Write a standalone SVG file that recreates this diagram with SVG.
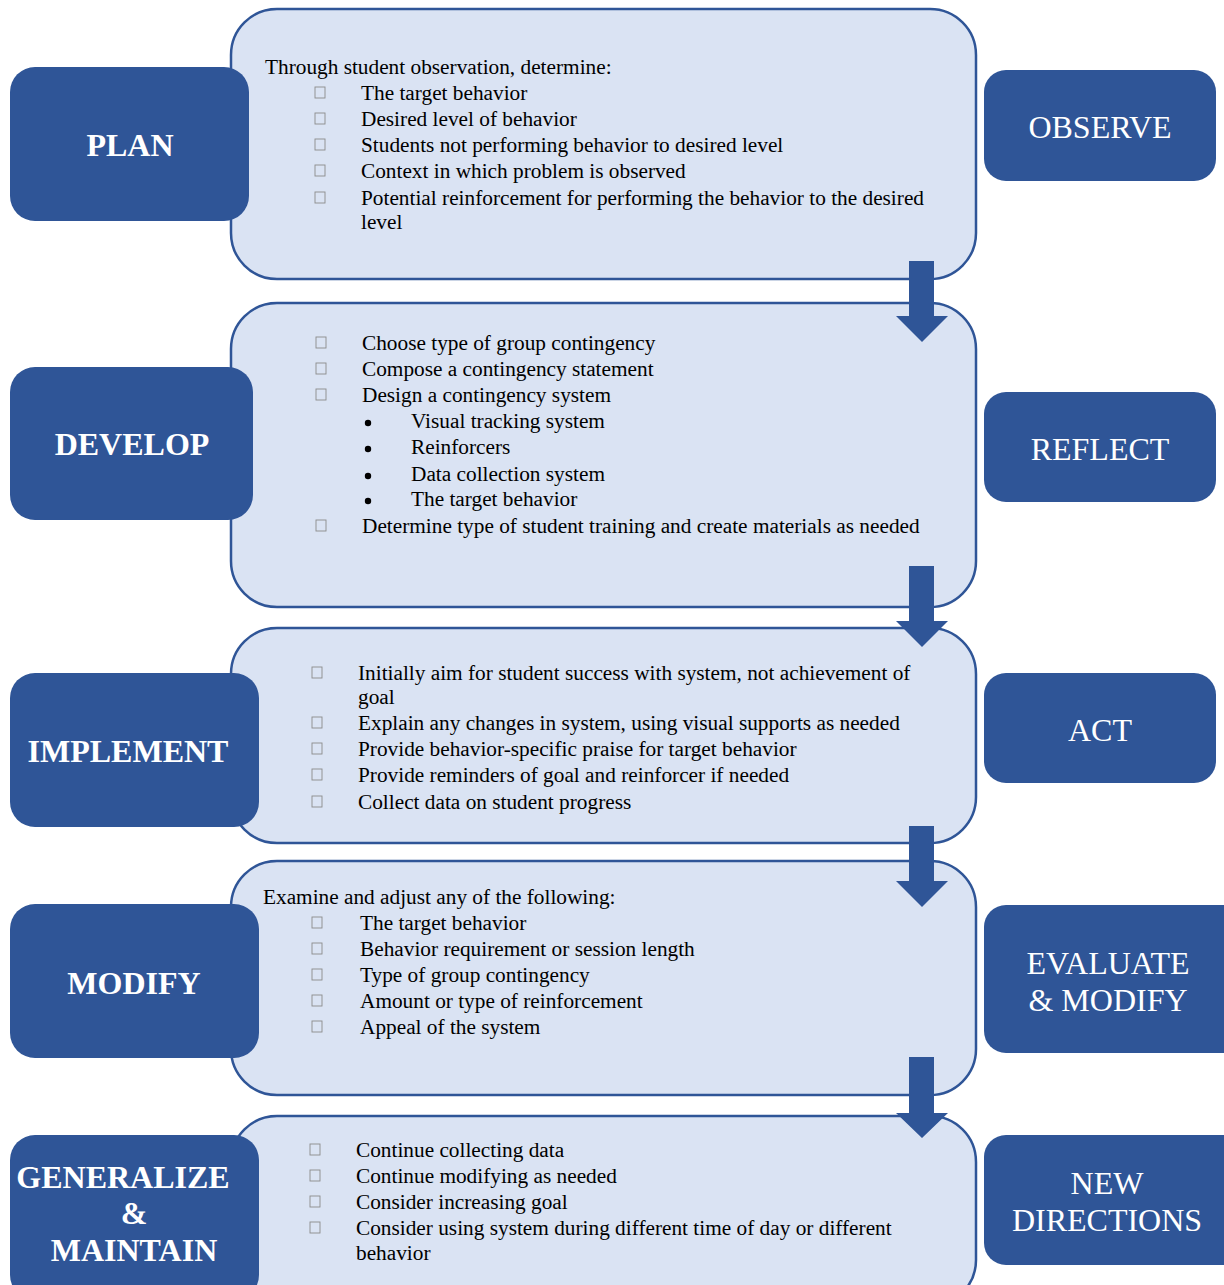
<svg xmlns="http://www.w3.org/2000/svg" width="1224" height="1285" viewBox="0 0 1224 1285">
<style>
.panel{fill:#DAE3F3;stroke:#2F5597;stroke-width:2.5}
.tag{fill:#2F5597}
.arrow{fill:#2F5597}
.body{font-family:"Liberation Serif","Times New Roman",serif;font-size:21.3px;fill:#000}
.lbl{font-family:"Liberation Serif","Times New Roman",serif;font-size:32px;font-weight:bold;fill:#fff;text-anchor:middle}
.rlbl{font-family:"Liberation Serif","Times New Roman",serif;font-size:32px;fill:#fff;text-anchor:middle}
.cb{fill:none;stroke:#8a8a8a;stroke-width:0.9}
.bul{fill:#000}
</style>
<defs>
<rect id="box" class="cb" x="0" y="-6" width="10" height="11"/>
</defs>
<rect width="1224" height="1285" fill="#fff"/>

<g id="panel-observe">
<rect class="panel" x="231" y="9" width="745" height="270" rx="46" ry="46"/>
<text class="body" x="265" y="74">Through student observation, determine:</text>
<use href="#box" x="315" y="93"/><text class="body" x="361" y="100">The target behavior</text>
<use href="#box" x="315" y="119"/><text class="body" x="361" y="126">Desired level of behavior</text>
<use href="#box" x="315" y="145"/><text class="body" x="361" y="152">Students not performing behavior to desired level</text>
<use href="#box" x="315" y="171"/><text class="body" x="361" y="178">Context in which problem is observed</text>
<use href="#box" x="315" y="198"/><text class="body" x="361" y="205">Potential reinforcement for performing the behavior to the desired</text>
<text class="body" x="361" y="229">level</text>
</g>

<g id="panel-reflect">
<rect class="panel" x="231" y="303" width="745" height="304" rx="46" ry="46"/>
<use href="#box" x="316" y="343"/><text class="body" x="362" y="350">Choose type of group contingency</text>
<use href="#box" x="316" y="369"/><text class="body" x="362" y="376">Compose a contingency statement</text>
<use href="#box" x="316" y="395"/><text class="body" x="362" y="402">Design a contingency system</text>
<circle class="bul" cx="368" cy="423" r="3.2"/><text class="body" x="411" y="428">Visual tracking system</text>
<circle class="bul" cx="368" cy="449" r="3.2"/><text class="body" x="411" y="454">Reinforcers</text>
<circle class="bul" cx="368" cy="476" r="3.2"/><text class="body" x="411" y="481">Data collection system</text>
<circle class="bul" cx="368" cy="501" r="3.2"/><text class="body" x="411" y="506">The target behavior</text>
<use href="#box" x="316" y="526"/><text class="body" x="362" y="533">Determine type of student training and create materials as needed</text>
</g>

<g id="panel-act">
<rect class="panel" x="231" y="628" width="745" height="215" rx="46" ry="46"/>
<use href="#box" x="312" y="673"/><text class="body" x="358" y="680">Initially aim for student success with system, not achievement of</text>
<text class="body" x="358" y="704">goal</text>
<use href="#box" x="312" y="723"/><text class="body" x="358" y="730">Explain any changes in system, using visual supports as needed</text>
<use href="#box" x="312" y="749"/><text class="body" x="358" y="756">Provide behavior-specific praise for target behavior</text>
<use href="#box" x="312" y="775"/><text class="body" x="358" y="782">Provide reminders of goal and reinforcer if needed</text>
<use href="#box" x="312" y="802"/><text class="body" x="358" y="809">Collect data on student progress</text>
</g>

<g id="panel-evaluate">
<rect class="panel" x="231" y="861" width="745" height="234" rx="46" ry="46"/>
<text class="body" x="263" y="904">Examine and adjust any of the following:</text>
<use href="#box" x="312" y="923"/><text class="body" x="360" y="930">The target behavior</text>
<use href="#box" x="312" y="949"/><text class="body" x="360" y="956">Behavior requirement or session length</text>
<use href="#box" x="312" y="975"/><text class="body" x="360" y="982">Type of group contingency</text>
<use href="#box" x="312" y="1001"/><text class="body" x="360" y="1008">Amount or type of reinforcement</text>
<use href="#box" x="312" y="1027"/><text class="body" x="360" y="1034">Appeal of the system</text>
</g>

<g id="panel-new">
<rect class="panel" x="231" y="1116" width="745" height="190" rx="46" ry="46"/>
<use href="#box" x="310" y="1150"/><text class="body" x="356" y="1157">Continue collecting data</text>
<use href="#box" x="310" y="1176"/><text class="body" x="356" y="1183">Continue modifying as needed</text>
<use href="#box" x="310" y="1202"/><text class="body" x="356" y="1209">Consider increasing goal</text>
<use href="#box" x="310" y="1228"/><text class="body" x="356" y="1235">Consider using system during different time of day or different</text>
<text class="body" x="356" y="1260">behavior</text>
</g>

<g id="connectors">
<path class="arrow" d="M909 261H934V316H948L922 342L896 316H909Z"/>
<path class="arrow" d="M909 566H934V621H948L922 647L896 621H909Z"/>
<path class="arrow" d="M909 826H934V881H948L922 907L896 881H909Z"/>
<path class="arrow" d="M909 1057H934V1113H948L922 1138L896 1113H909Z"/>
</g>

<g id="plan"><rect class="tag" x="10" y="67" width="239" height="154" rx="25" ry="25"/><text class="lbl" x="130" y="156">PLAN</text></g>
<g id="develop"><rect class="tag" x="10" y="367" width="243" height="153" rx="25" ry="25"/><text class="lbl" x="132" y="455">DEVELOP</text></g>
<g id="implement"><rect class="tag" x="10" y="673" width="249" height="154" rx="25" ry="25"/><text class="lbl" x="128" y="762">IMPLEMENT</text></g>
<g id="modify"><rect class="tag" x="10" y="904" width="249" height="154" rx="25" ry="25"/><text class="lbl" x="134" y="994">MODIFY</text></g>
<g id="generalize"><rect class="tag" x="10" y="1135" width="249" height="165" rx="25" ry="25"/>
<text class="lbl" x="123" y="1188">GENERALIZE</text><text class="lbl" x="134" y="1224">&amp;</text><text class="lbl" x="134" y="1261">MAINTAIN</text></g>

<g id="observe"><rect class="tag" x="984" y="70" width="232" height="111" rx="22" ry="22"/><text class="rlbl" x="1100" y="138">OBSERVE</text></g>
<g id="reflect"><rect class="tag" x="984" y="392" width="232" height="110" rx="22" ry="22"/><text class="rlbl" x="1100" y="460">REFLECT</text></g>
<g id="act"><rect class="tag" x="984" y="673" width="232" height="110" rx="22" ry="22"/><text class="rlbl" x="1100" y="741">ACT</text></g>
<g id="evaluate"><rect class="tag" x="984" y="905" width="260" height="148" rx="22" ry="22"/>
<text class="rlbl" x="1108" y="974">EVALUATE</text><text class="rlbl" x="1108" y="1011">&amp; MODIFY</text></g>
<g id="new-directions"><rect class="tag" x="984" y="1135" width="260" height="130" rx="22" ry="22"/>
<text class="rlbl" x="1107" y="1194">NEW</text><text class="rlbl" x="1107" y="1231">DIRECTIONS</text></g>
</svg>
